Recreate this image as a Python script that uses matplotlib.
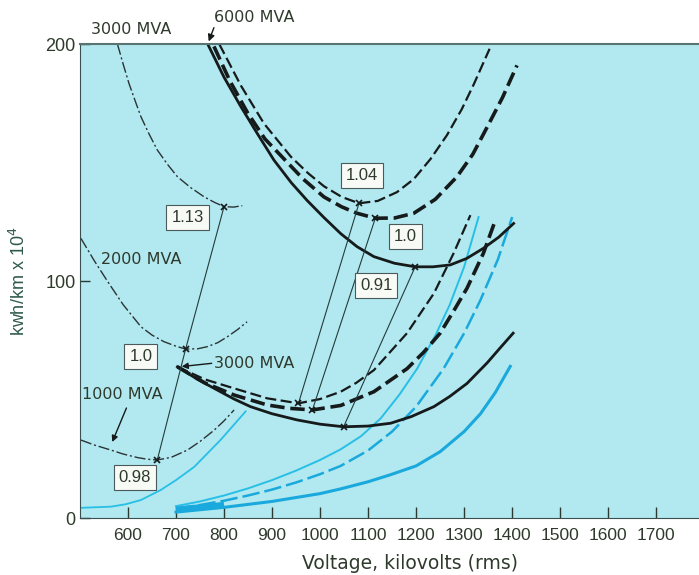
import matplotlib
matplotlib.use("Agg")
import matplotlib.pyplot as plt

# --- data (kV, kwh/km x 10^4) ---
# dash-dot curves, lower MVA ratings
dd3000_x = [578, 590, 602, 615, 627, 644, 661, 682, 703, 730, 758, 780, 800, 820, 838]
dd3000_y = [200, 191.5, 183.4, 176, 169.3, 162, 155.3, 149.3, 144, 139.5, 135.6, 133.2, 131.4, 131.2, 131.8]
dd2000_x = [502, 530, 557, 590, 627, 650, 675, 700, 720, 745, 765, 787, 807, 828, 848]
dd2000_y = [118, 108.5, 100, 90, 80.7, 77.2, 74.4, 72.5, 71.3, 71.4, 72.3, 74, 76.5, 79.5, 82.8]
dd1000_x = [502, 530, 564, 590, 620, 640, 661, 690, 724, 750, 779, 800, 821]
dd1000_y = [32.9, 30.8, 28.7, 27, 25.5, 24.8, 24.5, 25.6, 28.7, 32.3, 37, 41, 45.6]

# 6000 MVA family: solid, heavy dashed, light dashed
s6000_x = [766, 800, 835, 870, 904, 940, 973, 1008, 1043, 1077, 1112, 1155, 1198, 1235,
           1271, 1305, 1340, 1372, 1403]
s6000_y = [200, 186, 173.6, 162, 151, 141.5, 134, 126.8, 120, 114.5, 110.3, 107.5, 106, 106,
           106.8, 109.5, 113.8, 118.5, 124.3]
td6000_x = [779, 812, 849, 885, 925, 965, 1008, 1045, 1077, 1115, 1155, 1195, 1240, 1285,
            1318, 1348, 1380, 1410]
td6000_y = [199, 184.5, 171, 160, 151.5, 143, 135.5, 131.3, 128.6, 126.5, 126.6, 128.6, 134.5, 144,
            153.5, 165, 177.5, 191]
d6000_x = [790, 835, 883, 939, 975, 1008, 1045, 1081, 1120, 1160, 1195, 1230, 1264, 1295, 1320, 1353]
d6000_y = [200, 182.5, 166.5, 152.5, 145.5, 140, 135.5, 132.8, 133.8, 137.5, 143, 151.5, 161.5,
           172.5, 183, 198]

# 3000 MVA family
s3000_x = [703, 745, 786, 820, 855, 900, 952, 1000, 1049, 1100, 1147, 1190, 1237, 1270,
           1306, 1348, 1375, 1402]
s3000_y = [63.8, 58.5, 54, 50.3, 47, 44, 41.4, 39.6, 38.5, 38.8, 40, 42.8, 47, 51.3,
           56.8, 65.5, 71.8, 78]
td3000_x = [703, 760, 821, 890, 935, 984, 1043, 1112, 1181, 1215, 1250, 1280, 1306, 1340, 1365]
td3000_y = [63.8, 57, 51.9, 47.7, 46.3, 45.6, 47.5, 53.3, 63, 69.8, 78, 88, 97, 111.7, 125.7]
d3000_x = [703, 760, 821, 890, 955, 1000, 1043, 1075, 1112, 1181, 1237, 1278, 1313]
d3000_y = [63.8, 58.5, 54.7, 50.5, 48.4, 50.2, 53.3, 57, 62.4, 78, 94.8, 111.7, 127.8]

# cyan curves
cl_x = [502, 565, 595, 627, 668, 700, 738, 793, 845]
cl_y = [4.3, 4.8, 5.8, 7.6, 11.8, 16, 21.6, 33, 45]
ca_x = [700, 750, 800, 850, 900, 950, 1000, 1043, 1085, 1126, 1165, 1202, 1240, 1270, 1300, 1330]
ca_y = [5, 7, 9.5, 12.5, 16, 20, 24.5, 29, 34.5, 42, 52, 63, 77, 90, 106, 127]
cb_x = [700, 750, 800, 850, 900, 950, 1000, 1043, 1100, 1150, 1200, 1257, 1300, 1334, 1370, 1400]
cb_y = [4, 5.5, 7.3, 9.5, 12, 15, 18.5, 22, 28.5, 36.5, 47, 63, 78, 92, 109, 127]
cc_x = [700, 800, 900, 1000, 1043, 1100, 1147, 1200, 1250, 1300, 1334, 1365, 1396]
cc_y = [2.5, 4.5, 7, 10.3, 12.3, 15.3, 18.3, 22, 28, 36.5, 44, 53, 64]

# minimum-cost markers and loci joining them
mark_x = [800, 720, 661, 1081, 1115, 1198, 955, 984, 1049]
mark_y = [131.4, 71.3, 24.5, 132.8, 126.5, 106, 48.4, 45.6, 38.5]
loci = [([800, 720, 661], [131.4, 71.3, 24.5]),
        ([1081, 955], [132.8, 48.4]),
        ([1115, 984], [126.5, 45.6]),
        ([1198, 1049], [106, 38.5])]

# boxed ratio labels
box_text = ["1.13", "1.0", "0.98", "1.04", "1.0", "0.91"]
box_x = [724, 627, 614, 1088, 1178, 1117]
box_y = [127, 68, 17.3, 144.7, 118.6, 98.3]

xticks = [600, 700, 800, 900, 1000, 1100, 1200, 1300, 1400, 1500, 1600, 1700]
yticks = [0, 100, 200]

plt.rcParams['font.family'] = ['Liberation Sans', 'DejaVu Sans']
txt = '#2e3a2c'
black = '#151a1a'
cyan = '#27bfe6'
cyan_dark = '#1aa9dc'

fig = plt.figure(figsize=(6.99, 5.75), dpi=100)
ax = fig.add_axes([0.1144, 0.0991, 0.8856, 0.8243])
ax.set_facecolor('#b2e8f0')
ax.set_xlim(500, 1789)
ax.set_ylim(0, 200)

# cyan curves
ax.plot(cl_x, cl_y, color=cyan, lw=1.3)
ax.plot(ca_x, ca_y, color=cyan, lw=1.4)
ax.plot(cb_x, cb_y, color=cyan_dark, lw=1.8, dashes=(7, 2))
ax.plot(cc_x, cc_y, color=cyan_dark, lw=2.2)
ax.plot(cc_x[:2], [3.5, 5.5], color=cyan_dark, lw=4.5, solid_capstyle='butt')

# dash-dot curves
dd = dict(color='#2a3434', lw=1.0, dashes=(8, 2, 1.5, 2))
ax.plot(dd3000_x, dd3000_y, **dd)
ax.plot(dd2000_x, dd2000_y, **dd)
ax.plot(dd1000_x, dd1000_y, **dd)

# black families
for sx, sy, tx, ty, dx, dy in [(s6000_x, s6000_y, td6000_x, td6000_y, d6000_x, d6000_y),
                               (s3000_x, s3000_y, td3000_x, td3000_y, d3000_x, d3000_y)]:
    ax.plot(sx, sy, color=black, lw=2.0)
    ax.plot(tx, ty, color=black, lw=2.6, dashes=(4, 1.6))
    ax.plot(dx, dy, color=black, lw=1.6, dashes=(5, 2))

# loci and markers
for lx, ly in loci:
    ax.plot(lx, ly, color='#243c3c', lw=0.8)
ax.plot(mark_x, mark_y, ls='none', marker='x', ms=5, mew=1.2, color=black)

for t, bx, by in zip(box_text, box_x, box_y):
    ax.text(bx, by, t, ha='center', va='center', fontsize=12, color=txt,
            bbox=dict(boxstyle='square,pad=0.3', fc='#f8faf6', ec='#4a5a5a', lw=0.8))

# curve labels
lab = dict(fontsize=11.5, color=txt, family='DejaVu Sans')
ax.text(606, 206, "3000 MVA", ha='center', va='center', clip_on=False, **lab)
ax.text(779, 211, "6000 MVA", ha='left', va='center', clip_on=False, **lab)
ax.annotate("", xy=(766, 200), xytext=(781, 208), annotation_clip=False,
            arrowprops=dict(arrowstyle='-|>', color=black, lw=1, mutation_scale=10))
ax.text(543, 109, "2000 MVA", ha='left', va='center', **lab)
ax.text(504, 52, "1000 MVA", ha='left', va='center', **lab)
ax.annotate("", xy=(565, 31), xytext=(599, 47.5),
            arrowprops=dict(arrowstyle='-|>', color=black, lw=1, mutation_scale=9))
ax.text(780, 65.4, "3000 MVA", ha='left', va='center', **lab)
ax.annotate("", xy=(706, 63.8), xytext=(780, 65.4),
            arrowprops=dict(arrowstyle='-|>', color=black, lw=1, mutation_scale=9))

ax.set_xticks(xticks)
ax.set_yticks(yticks)
ax.tick_params(direction='in', length=8, width=1, colors='#2a3a30',
               labelcolor=txt, labelsize=12.5, pad=7)
ax.tick_params(axis='y', pad=3, length=7, labelsize=13)
ax.spines['right'].set_visible(False)
ax.spines['top'].set_color('#5a7474')
ax.spines['top'].set_linewidth(1.5)
ax.spines['left'].set_color('#3a5050')
ax.spines['bottom'].set_color('#3a5050')

ax.set_xlabel("Voltage, kilovolts (rms)", fontsize=13.5, color=txt, labelpad=8,
              family='DejaVu Sans', x=0.533)
ax.set_ylabel("kwh/km x 10$^4$", fontsize=13, color='#2f5a4a', labelpad=12)

fig.savefig("out.png", dpi=100)
